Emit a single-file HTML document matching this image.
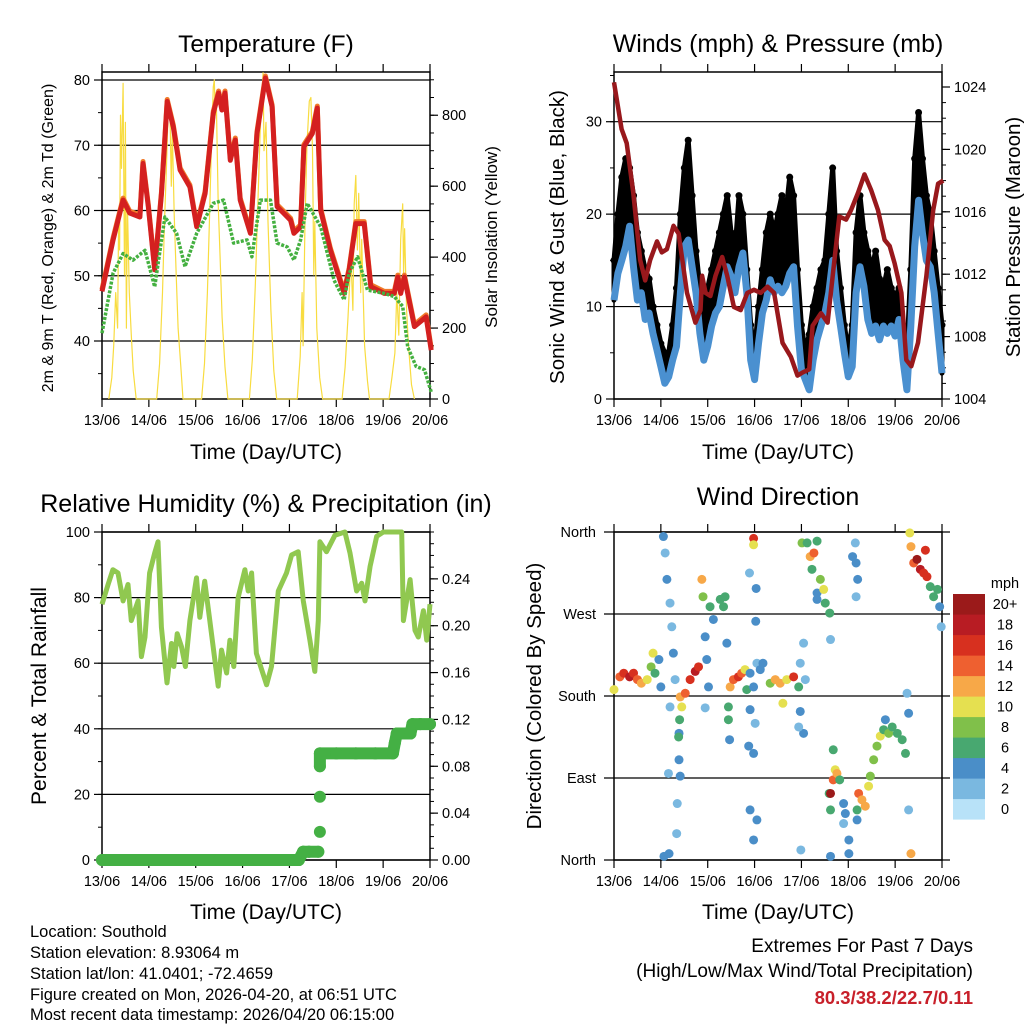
<!DOCTYPE html>
<html><head><meta charset="utf-8"><style>
html,body{margin:0;padding:0;background:#fff;}
svg{display:block;font-family:"Liberation Sans",sans-serif;}
</style></head><body>
<svg id="s" width="1024" height="1024" viewBox="0 0 1024 1024" xmlns="http://www.w3.org/2000/svg">
<g id="g"></g>
<text x="266" y="52" font-size="24.5" text-anchor="middle">Temperature (F)</text>
<text x="778" y="52" font-size="25" text-anchor="middle">Winds (mph) &amp; Pressure (mb)</text>
<text x="266" y="512" font-size="25" text-anchor="middle">Relative Humidity (%) &amp; Precipitation (in)</text>
<text x="778" y="505" font-size="25" text-anchor="middle">Wind Direction</text>
<text x="266" y="459" font-size="21" text-anchor="middle">Time (Day/UTC)</text>
<text x="778" y="459" font-size="21" text-anchor="middle">Time (Day/UTC)</text>
<text x="266" y="919" font-size="21" text-anchor="middle">Time (Day/UTC)</text>
<text x="778" y="919" font-size="21" text-anchor="middle">Time (Day/UTC)</text>
<text transform="translate(53,238) rotate(-90)" font-size="16" text-anchor="middle">2m &amp; 9m T (Red, Orange) &amp; 2m Td (Green)</text>
<text transform="translate(497,237) rotate(-90)" font-size="17" text-anchor="middle">Solar Insolation (Yellow)</text>
<text transform="translate(564,237) rotate(-90)" font-size="20.5" text-anchor="middle">Sonic Wind &amp; Gust (Blue, Black)</text>
<text transform="translate(1020,237) rotate(-90)" font-size="20.5" text-anchor="middle">Station Pressure (Maroon)</text>
<text transform="translate(46,696) rotate(-90)" font-size="21" text-anchor="middle">Percent &amp; Total Rainfall</text>
<text transform="translate(541,696) rotate(-90)" font-size="20.5" text-anchor="middle">Direction (Colored By Speed)</text>
<g font-size="16.5">
<text x="30" y="937">Location: Southold</text>
<text x="30" y="958">Station elevation: 8.93064 m</text>
<text x="30" y="979">Station lat/lon: 41.0401; -72.4659</text>
<text x="30" y="1000">Figure created on Mon, 2026-04-20, at 06:51 UTC</text>
<text x="30" y="1020">Most recent data timestamp: 2026/04/20 06:15:00</text>
</g>
<g text-anchor="end">
<text x="973" y="952" font-size="19">Extremes For Past 7 Days</text>
<text x="973" y="977" font-size="19">(High/Low/Max Wind/Total Precipitation)</text>
<text x="973" y="1004" font-size="18.5" font-weight="bold" fill="#c8202a">80.3/38.2/22.7/0.11</text>
</g>
</svg>
<script>
// ---------- data ----------
const dayLabels=['13/06','14/06','15/06','16/06','17/06','18/06','19/06','20/06'];
const tH=[0,5.7,10.8,14.2,19.4,21,23.7,27,30.5,33.4,36.5,40,45,48.5,52.8,57,59.7,61.4,63,65.7,68.3,70.8,76,79.4,83.7,87.1,89.7,93,96.6,98.3,101.7,103.4,107.7,110.3,112,117,124,126.6,130,134.3,137.7,144.6,149.7,151.5,153,154.9,160,166,168.6];
const tV=[47.6,55.5,61.6,59.6,59,67.2,60.6,50.9,62.6,76.7,72.8,66.2,63.6,57.5,62.6,74.9,78,75.4,78,67.7,70.8,61.6,56.5,71.8,80.3,75.9,60.6,59.6,58.5,56.5,57.5,69.8,71.8,75.7,60,53.9,47.3,50.9,58,58,48.3,47.3,47.3,49.8,47.3,49.8,42.2,43.7,38.6];
const tdH=[0,5.7,10.8,15.9,22,27,32.2,38.2,42.5,48.5,57,62.3,67.4,74.3,76.8,81.1,86.3,89.7,94.9,98.3,101.7,105.1,112,118.9,124,126.6,130.9,136,144.6,149.7,154,156.6,160.9,165.2,168.6];
const tdV=[41.2,50.4,53.4,52.4,53.9,48.3,59,56.5,51.4,56.5,61.1,61.6,55,55.5,52.9,61.6,61.6,55,54.4,52.4,55.5,61.1,57.5,49.3,46.3,50.4,52.9,47.8,47.3,46.8,45.3,39.1,36.1,35.6,32.2];
const solH=[3.5,5,6,7,8,8.5,9,9.5,10,10.8,11.5,12,12.5,13,14,15,16,17.5,28,29.5,31,32,33,34,34.8,35.5,36,37,38,39,40.5,41.5,51,52.5,54,55,56,57,57.5,58,58.5,59.5,60.5,61.5,63,64.5,75.5,77,78.5,80,81,82,82.5,83,84,85,86.5,88,89.5,100,101.5,102.5,103,104,105,106.2,107,107.8,108.5,109,110,111.5,113,123,124.5,126,127.5,128.5,129.2,130,130.8,131.5,132.5,133,134.5,136,137,147,148.5,150,151,152,153,154,154.5,155,156,157,158.5,160];
const solV=[0,60,150,300,200,500,420,800,650,890,350,780,200,550,300,180,80,0,0,100,300,500,650,840,820,600,760,520,350,200,80,0,0,100,300,500,700,880,900,800,860,550,400,230,90,0,0,110,320,580,750,870,920,700,780,500,250,80,0,0,120,300,150,500,720,840,850,700,350,500,200,60,0,0,90,230,400,250,550,630,420,580,300,450,150,50,0,0,60,130,300,180,450,550,350,480,250,150,40,0];
const pH=[0,3.9,6.5,9.9,13.4,16,18.5,22,24.5,27.1,30.5,33.1,37.4,41.7,44.3,45.1,46.9,49.4,52,55.4,58,61.4,64.9,68.3,71.7,75.1,78.6,82,86.3,90.6,94,96.6,100,101.7,106,109.4,112.9,115.4,118.9,121.4,124.9,128.3,131.7,135.2,138.6,141.2,143.7,147.2,149.7,152.3,155.7,160,163.5,166,168.6];
const pV=[1024.3,1021.3,1020.4,1017.2,1012.9,1011.6,1012.9,1014.1,1013.4,1013.6,1015.1,1014.6,1010.8,1008.9,1009.7,1011.9,1010.8,1010.6,1011.9,1013.1,1011.9,1009.9,1009.7,1010.8,1011,1010.8,1011.2,1010.8,1007.6,1006.7,1005.5,1005.7,1005.9,1008.7,1009.5,1008.9,1012.9,1015.7,1015.5,1016.1,1017.2,1018.4,1017.4,1016.1,1014.2,1013.8,1012.7,1010.8,1006.5,1006.1,1007.6,1011.9,1016.1,1017.8,1018];
const wH=[0,2,4,6,8,10,12,14,16,18,20,22,24,26,28,30,32,34,36,38,40,42,44,46,48,50,52,54,56,58,60,62,64,66,68,70,72,74,76,78,80,82,84,86,88,90,92,94,96,98,100,102,104,106,108,110,112,114,116,118,120,122,124,126,128,130,132,134,136,138,140,142,144,146,148,150,152,154,156,158,160,162,164,166,168];
const wV=[10.7,13.6,15,16.5,18.7,14.3,10.7,11.5,8.6,9.3,7.1,5.3,3.5,1.7,2.4,4.2,5.7,11.5,16.5,17.2,14.3,11.5,7.1,4.2,5.7,7.9,9.3,10,12.2,14.3,13.3,11.5,14.3,15.8,11.5,4.2,2.1,6,9.3,10.7,12.9,11.5,12.2,11.5,12.2,13.6,14.3,7.9,3.2,2.1,1,4.2,6.4,7.9,9.3,11.5,15,10.7,7.9,5,2.4,3.5,11.5,14.3,12.2,8.6,7.1,7.9,6.4,7.9,7.1,7.9,6.8,8.6,4.2,1,7.9,16.5,21.5,17.9,15,14.3,11.5,7.1,2.8];
const gV=[15,20,24,26,25,22,18,16,14,13,10,8,6,5,5,8,12,20,25,28,22,16,12,10,12,14,16,18,20,22,18,16,22,20,14,8,5,10,14,18,20,18,20,22,20,24,22,14,8,5,7,10,12,14,15,20,25,16,12,8,5,8,18,22,18,16,14,16,13,12,14,12,11,12,8,5,14,26,31,26,22,20,16,12,8];
const rhH=[0,3.1,5.6,8.2,10.8,13.3,15,18.5,20.2,22,24.4,27,28.7,30.4,33.3,35.6,36.8,38.5,40.7,42.7,45,48.4,50.1,52.6,55.2,59.5,61.2,63.8,65.5,67.5,69.7,73.2,74.9,76.6,79.1,84.3,86.8,90.3,94.5,97.1,100.5,103.1,106.5,109,110.8,111.6,115,119.3,124.4,127,130.4,133,134.7,137.3,140.7,144.1,153.5,154.4,157.8,160.3,162,164.6,166.3,168];
const rhV=[78,84,88.5,87.5,79,84,73,79,62,68,87.5,93.6,97,71,54,66,59,69,65,59,73,86,74,85,73,53,64,57,67,59,80,88.5,82,87.5,63,53.4,59,82,87.5,93,94,79,67,57.5,73,97,94,99,100,93.6,82,84.4,79,89.5,98.7,100,100,73,85.5,70,68,76,67,78];
const rainH=[0,20,40,60,80,100,100.8,103,106,110.8,111.6,111.6,111.6,111.6,120,130,140,149,150,151,155,158,159,163,168];
const rainV=[0,0,0,0,0,0,0,0.007,0.007,0.007,0.024,0.054,0.08,0.091,0.091,0.091,0.091,0.091,0.1,0.108,0.108,0.108,0.116,0.116,0.116];
const wdH=[0,3,5,8,10,12,14,17,19,20,21,23,24, 25.3,26.2,27.1,28.7,29.6,30.4,31.3,28.7,33.3,33.3,33.9,27.9,32.4,28.2,32.1,25.6, 33.9,36.5,39,41.6,43.3,34.7,33.6,33.1, 45,45.6,49.2,50.9,54.4,56.1,56.9,46.7,47.5,48.4,46.7,57.8, 59.5,61.2,63.7,65.4,67.1,68,58.6,58.6,59.2, 69.7,71.5,73.2,74.9,76.3,69.7,72.3,71.5,69,69.7,73.2,71.5,71.5,69.4,72.8,72.6,71.5, 80,82.6,85.1,88.5,92,94.6,86.5, 95.4,97.1,98,95.4,97.1,94.6, 95.7,96.3,100.5,101.4,104,105.7,107.4,108.2,110.5,102.4,104,98.9,104,110.9,110.2, 122.2,124,124.8,123.6,124, 110.9,112.3,113.3,114.2,115.6,112.3,110.9,117.6,118.5,117.6,120.3,120.3,110.9, 125.3,127,128.7,130.4,131.3,124.5,124.5, 133,134.7,136.4,138.1,140.7,142.5,145.1,147.6,149.3,139,150.9,150.1,150.9,152.1, 151.5,152.1,153.5,155.2,156.9,158.6,160.3,162,163.7,165.7,166.8,167.6,159.5];
const wdV=[187,201,205,201,205,198,194,198,212,227,205,220,190, 355,337,308,282,256,227,198,168,139,110,92,95,62,7,29,4, 179,183,198,207,212,168,154,135, 308,289,278,264,286,278,289,245,220,190,167,238, 190,198,201,205,209,187,168,154,132, 205,190,216,209,216,165,150,117,125,55,44,353,346,315,298,262,22, 194,198,194,198,201,190,172, 216,238,198,163,139,146, 11,348,333,319,293,308,297,282,271,337,350,348,286,242,73, 333,326,308,348,289, 73,88,99,95,88,121,55,62,51,40,22,7,4, 73,66,59,81,92,55,44, 110,125,136,143,139,146,139,132,117,154,161,183,55,7, 359,344,326,330,319,315,311,300,289,297,278,256,340];
const wdS=[10,14,16,18,16,14,12,10,8,10,6,4,4, 4,2,4,2,2,4,2,2,4,4,4,2,2,4,2,4, 12,14,16,18,16,10,6,6, 12,8,6,4,6,6,6,4,4,4,2,4, 12,14,16,14,10,6,6,6,4, 4,4,2,4,4,4,2,4,4,4,4,16,10,2,4,4,4, 8,12,12,10,16,6,10, 2,2,2,4,4,2, 2,8,12,6,4,8,10,6,6,14,6,6,4,2,6, 4,4,4,2,2, 20,14,10,12,6,6,6,4,4,2,4,4,4, 14,12,12,10,8,6,4, 8,8,10,6,8,6,6,6,6,4,4,2,2,12, 10,12,14,20,18,16,16,6,6,6,4,2,16];
const tempTicks=[40,50,60,70,80], solarTicks=[0,200,400,600,800];
const windTicks=[0,10,20,30], presTicks=[1004,1008,1012,1016,1020,1024];
const rhTicks=[0,20,40,60,80,100], rainTicks=[0,0.04,0.08,0.12,0.16,0.20,0.24];
const dirTicks=[0,90,180,270,360], dirLabels=['North','East','South','West','North'];
const cbLabels=['0','2','4','6','8','10','12','14','16','18','20+'];
const cbColors=['#b8e2f8','#7ab8e0','#4a8ec8','#48a870','#80c04a','#e5e050','#f7a848','#ee6030','#d7301f','#b81c23','#9b1a1a'];

// ---------- helpers ----------
const NS='http://www.w3.org/2000/svg', G=document.getElementById('g');
function mk(tag,attrs,parent){const e=document.createElementNS(NS,tag);for(const k in attrs)e.setAttribute(k,attrs[k]);(parent||G).appendChild(e);return e;}
function grp(name){const e=mk('g',{});return e;}
const X1=h=>102+h/168*328, X2=h=>614+h/168*328;
const yT=v=>80+(80-v)*6.525, yS=v=>399-v*0.3547;
const yW=v=>399-v*9.243, yP=v=>399-(v-1004)*15.6;
const yRH=v=>860-v*3.28, yR=v=>860-v/0.28*328, yD=v=>860-v/360*328;
function pts(hs,vs,fx,fy){return hs.map((h,i)=>fx(h).toFixed(1)+','+fy(vs[i]).toFixed(1)).join(' ');}

function frame(name,x0,x1,y0,y1){
  const g=grp(name);
  mk('rect',{x:x0,y:y0,width:x1-x0,height:y1-y0,fill:'none',stroke:'#000','stroke-width':1.5},g);
  for(let d=0;d<=7;d++){const x=x0+d*(x1-x0)/7;
    mk('line',{x1:x,x2:x,y1:y1,y2:y1+8,stroke:'#000','stroke-width':1.2},g);
    mk('line',{x1:x,x2:x,y1:y0,y2:y0-8,stroke:'#000','stroke-width':1.2},g);
    const t=mk('text',{x:x,y:y1+26,'font-size':14.5,'text-anchor':'middle'},g);t.textContent=dayLabels[d];}
  return g;
}
function yaxis(g,ticks,fy,x,side,fmt,x0,x1,grid,nminor,y0,y1){
  ticks.forEach((v,i)=>{const y=fy(v);
    mk('line',{x1:x,x2:x+(side<0?-8:8),y1:y,y2:y,stroke:'#000','stroke-width':1.2},g);
    if(grid) mk('line',{x1:x0,x2:x1,y1:y,y2:y,stroke:'#000','stroke-width':1.2},g);
    const t=mk('text',{x:x+(side<0?-12:12),y:y+5,'font-size':14.5,'text-anchor':side<0?'end':'start'},g);t.textContent=fmt(v);});
  // minor ticks
  const step=fy(ticks[0])-fy(ticks[1]);
  const ms=step/nminor;
  for(let y=fy(ticks[0])+ms*nminor;y>=y0-0.5;y-=ms){ if(y<=y1+0.5) mk('line',{x1:x,x2:x+(side<0?-4:4),y1:y,y2:y,stroke:'#000','stroke-width':1},g);}
}

// ---------- temperature ----------
let g=frame('temperature-panel',102,430,72,399);
yaxis(g,tempTicks,yT,102,-1,v=>v,102,430,true,2,72,399);
yaxis(g,solarTicks,yS,430,1,v=>v,102,430,false,4,72,399);
let e=mk('polyline',{points:pts(solH,solV,X1,yS),fill:'none',stroke:'#f8dc40','stroke-width':1.2,'stroke-linejoin':'round'});

e=mk('polyline',{points:pts(tH,tV,X1,yT),fill:'none',stroke:'#f07a2a','stroke-width':5,'stroke-linejoin':'round',transform:'translate(0,-2)'});

e=mk('polyline',{points:pts(tH,tV,X1,yT),fill:'none',stroke:'#d42020','stroke-width':5,'stroke-linejoin':'round'});

e=mk('polyline',{points:pts(tdH,tdV,X1,yT),fill:'none',stroke:'#44b040','stroke-width':3.5,'stroke-dasharray':'3 1.5','stroke-linejoin':'round'});


// ---------- winds ----------
g=frame('winds-panel',614,942,72,399);
yaxis(g,windTicks,yW,614,-1,v=>v,614,942,true,2,72,399);
yaxis(g,presTicks,yP,942,1,v=>v,614,942,false,4,72,399);
const gp=pts(wH,gV,X2,yW)+' '+pts(wH.slice().reverse(),wV.slice().reverse(),X2,yW);
e=mk('polygon',{points:gp,fill:'#000',stroke:'#000','stroke-width':5,'stroke-linejoin':'round'});

wH.forEach((h,i)=>{const c=mk('circle',{cx:X2(h),cy:yW(gV[i]),r:3.5,fill:'#000'});
});
e=mk('polyline',{points:pts(wH,wV,X2,yW),fill:'none',stroke:'#4a90d0','stroke-width':7,'stroke-linejoin':'round'});

e=mk('polyline',{points:pts(pH,pV,X2,yP),fill:'none',stroke:'#98181c','stroke-width':4.5,'stroke-linejoin':'round'});


// ---------- RH ----------
g=frame('humidity-panel',102,430,532,860);
yaxis(g,rhTicks,yRH,102,-1,v=>v,102,430,true,2,532,860);
yaxis(g,rainTicks,yR,430,1,v=>v.toFixed(2),102,430,false,4,532,860);
e=mk('polyline',{points:pts(rhH,rhV,X1,yRH),fill:'none',stroke:'#90c850','stroke-width':5,'stroke-linejoin':'round'});

for(let i=1;i<rainH.length;i++){ if(Math.abs(rainV[i]-rainV[i-1])<0.012){
  const l=mk('line',{x1:X1(rainH[i-1]),y1:yR(rainV[i-1]),x2:X1(rainH[i]),y2:yR(rainV[i]),stroke:'#44b044','stroke-width':12,'stroke-linecap':'round'});
  }}
rainH.forEach((h,i)=>{const c=mk('circle',{cx:X1(h),cy:yR(rainV[i]),r:6,fill:'#44b044'});
});

// ---------- wind direction ----------
g=frame('wind-direction-panel',614,942,532,860);
dirTicks.forEach((v,i)=>{const y=yD(v);
  mk('line',{x1:604,x2:950,y1:y,y2:y,stroke:'#000','stroke-width':1.2},g);
  const t=mk('text',{x:596,y:y+5,'font-size':14.5,'text-anchor':'end'},g);t.textContent=dirLabels[i];});
wdH.forEach((h,i)=>{const c=mk('circle',{cx:X2(h),cy:yD(wdV[i]),r:4.5,fill:cbColors[Math.min(10,Math.floor(wdS[i]/2))]});
});
const cb=grp('speed-colorbar');
cbColors.forEach((c,i)=>{const y=594+(10-i)*20.5;
  const r=mk('rect',{x:953,y:y,width:32,height:20.6,fill:c},cb);
  
  const t=mk('text',{x:1005,y:y+15,'font-size':14.5,'text-anchor':'middle'},cb);t.textContent=cbLabels[i];});
const mph=mk('text',{x:1005,y:588,'font-size':14.5,'text-anchor':'middle'},cb);mph.textContent='mph';
</script>
</body></html>
